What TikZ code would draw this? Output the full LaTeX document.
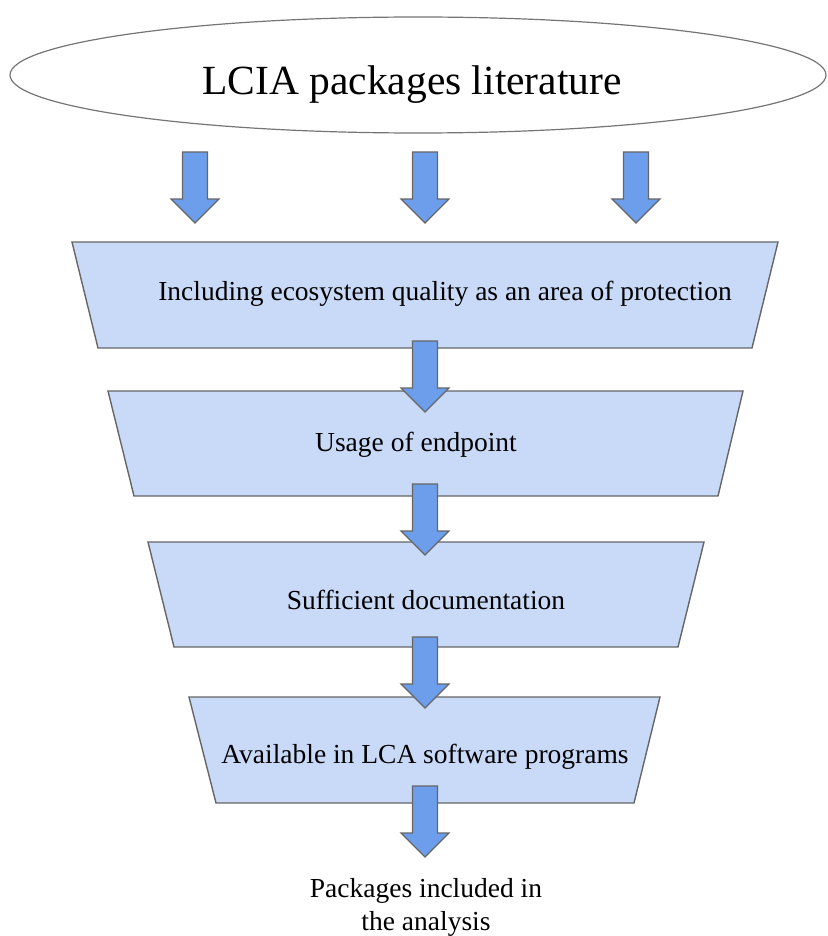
\documentclass[tikz,border=0pt]{standalone}
\usepackage{fontspec}
\setmainfont{Liberation Serif}
\begin{document}
\begin{tikzpicture}[x=1pt,y=-1pt,
  stage/.style={fill=stagefill,draw=edgegray,line width=1.4pt,line join=miter},
  flowarrow/.style={fill=arrowblue,draw=edgegray,line width=1.2pt,line join=miter},
  label/.style={font=\fontsize{27.5}{32}\selectfont,anchor=base,inner sep=0pt},
  ]
\definecolor{stagefill}{HTML}{C9DAF8}
\definecolor{arrowblue}{HTML}{6D9EEB}
\definecolor{edgegray}{HTML}{666666}
\useasboundingbox (0,0) rectangle (827,936);

% block arrow: centre x, top y
\newcommand\blockarrow[2]{%
  \draw[flowarrow] (#1-12.5,#2) -- (#1+12.5,#2) -- (#1+12.5,#2+47)
    -- (#1+24,#2+47) -- (#1,#2+71) -- (#1-24,#2+47) -- (#1-12.5,#2+47) -- cycle;}

% source ellipse
\draw[draw=edgegray!90,line width=1.2pt,fill=white] (418,75) ellipse [x radius=408,y radius=58];
\node[font=\fontsize{41.5}{48}\selectfont,anchor=base,inner sep=0pt] (src) at (412,95) {LCIA packages literature};

% funnel stages
\draw[stage] (72,242) -- (778,242) -- (752,348) -- (98,348) -- cycle;
\node[label] (s1) at (445,300) {Including ecosystem quality as an area of protection};

\draw[stage] (108,391) -- (743,391) -- (718,496) -- (134,496) -- cycle;
\node[label] (s2) at (416,451) {Usage of endpoint};

\draw[stage] (148,542) -- (704,542) -- (678,647) -- (174,647) -- cycle;
\node[label] (s3) at (426,609) {Sufficient documentation};

\draw[stage] (189,697) -- (660,697) -- (634,803) -- (216,803) -- cycle;
\node[label] (s4) at (425,763) {Available in LCA software programs};

% arrows from the source into the funnel
\blockarrow{195}{152}
\blockarrow{425}{152}
\blockarrow{636}{152}

% arrows between the stages, drawn over them
\blockarrow{425}{341}
\blockarrow{425}{484}
\blockarrow{425}{637}
\blockarrow{425}{786}

% result
\node[label] (res1) at (426,897) {Packages included in};
\node[label] (res2) at (426,930) {the analysis};
\end{tikzpicture}
\end{document}
